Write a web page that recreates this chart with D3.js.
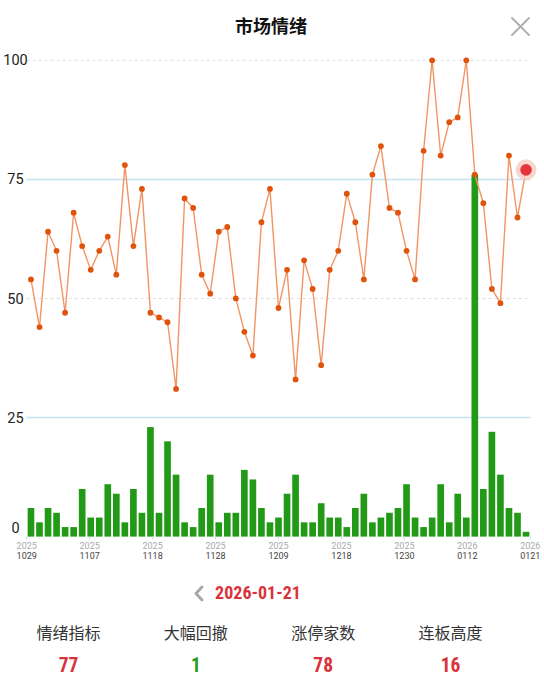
<!DOCTYPE html>
<html><head><meta charset="utf-8">
<script src="https://cdn.jsdelivr.net/npm/d3@7/dist/d3.min.js"></script>
<style>body{margin:0;background:#fff;} svg{display:block}</style>
</head><body>
<svg id="c" width="544" height="686"></svg>
<script>
const dates = [
 "20251029","20251030","20251031",
 "20251103","20251104","20251105","20251106","20251107",
 "20251110","20251111","20251112","20251113","20251114",
 "20251117","20251118","20251119","20251120","20251121",
 "20251124","20251125","20251126","20251127","20251128",
 "20251201","20251202","20251203","20251204","20251205",
 "20251208","20251209","20251210","20251211","20251212",
 "20251215","20251216","20251217","20251218","20251219",
 "20251222","20251223","20251224","20251225","20251226",
 "20251229","20251230","20251231",
 "20260105","20260106","20260107","20260108","20260109",
 "20260112","20260113","20260114","20260115","20260116",
 "20260119","20260120","20260121"
];
const sentiment = [54,44,64,60,47,68,61,56,60,63,55,78,61,73,47,46,45,31,71,69,55,51,64,65,50,43,38,66,73,48,56,33,58,52,36,56,60,72,66,54,76,82,69,68,60,54,81,100,80,87,88,100,76,70,52,49,80,67,77];
const drawdown = [6,3,6,5,2,2,10,4,4,11,9,3,10,5,23,5,20,13,3,2,6,13,3,5,5,14,12,6,3,4,9,13,3,3,7,4,4,2,6,9,3,4,5,6,11,4,2,4,11,3,9,4,76,10,22,13,6,5,1];
const yTicks = [0,25,50,75,100];
const solidTicks = [25,75];
const xTickYears = ["2025","2025","2025","2025","2025","2025","2025","2026","2026"];
const xTickDays = ["1029","1107","1118","1128","1209","1218","1230","0112","0121"];
const title = "市场情绪";
const selectedDate = "2026-01-21";
const statLabels = ["情绪指标","大幅回撤","涨停家数","连板高度"];
const statValues = ["77","1","78","16"];
const statUp = [true,false,true,true];

const svg = d3.select("#c");
const L = 26.7, R = 530.3, Y0 = 536.6, Y100 = 60.3;
const x = d3.scaleBand().domain(d3.range(dates.length)).range([L, R]).padding(0);
const cx = i => x(i) + x.bandwidth()/2;
const y = d3.scaleLinear().domain([0,100]).range([Y0, Y100]);
const xt = d3.scaleLinear().domain([0, xTickDays.length-1]).range([L, R]);

const numFont = "'Liberation Sans Narrow','Roboto Condensed','Liberation Sans',sans-serif";
const cjk = "'Noto Sans CJK SC','Noto Sans',sans-serif";

// title
svg.append("text").attr("x",271).attr("y",27).attr("dy","0.35em").attr("text-anchor","middle")
  .attr("font-family",cjk).attr("font-weight","bold").attr("font-size",18).attr("fill","#111").text(title);
// close icon
const cl = svg.append("g").attr("stroke","#b0b0b0").attr("stroke-width",2).attr("stroke-linecap","round");
cl.append("line").attr("x1",512).attr("y1",18).attr("x2",529).attr("y2",35);
cl.append("line").attr("x1",529).attr("y1",18).attr("x2",512).attr("y2",35);

// grid
svg.append("g").selectAll("line").data(yTicks.filter(d=>d>0)).join("line")
  .attr("x1",L).attr("x2",R).attr("y1",d=>y(d)).attr("y2",d=>y(d))
  .attr("stroke",d=>solidTicks.includes(d)?"#c2e4f4":"#dcdcdc")
  .attr("stroke-width",d=>solidTicks.includes(d)?1.5:1)
  .attr("stroke-dasharray",d=>solidTicks.includes(d)?null:"3,3");

// y labels
svg.append("g").selectAll("text").data(yTicks).join("text")
  .attr("x",15.5).attr("y",d=>Math.min(y(d), Y0-9)).attr("dy","0.35em").attr("text-anchor","middle")
  .attr("font-family","Roboto,sans-serif").attr("font-size",14.5).attr("fill","#222").text(d=>d);

// bars
const bw = x.bandwidth()*0.78;
svg.append("g").selectAll("rect").data(drawdown).join("rect")
  .attr("x",(d,i)=>cx(i)-bw/2).attr("width",bw)
  .attr("y",d=>y(d)).attr("height",d=>Y0-y(d))
  .attr("fill","#229a17");

// x ticks
svg.append("g").selectAll("line").data(xTickDays).join("line")
  .attr("x1",(d,i)=>xt(i)).attr("x2",(d,i)=>xt(i)).attr("y1",Y0).attr("y2",Y0+3)
  .attr("stroke","#bfe3f3").attr("stroke-width",1);
svg.append("g").selectAll("text").data(xTickYears).join("text")
  .attr("x",(d,i)=>xt(i)).attr("y",546).attr("dy","0.35em").attr("text-anchor","middle")
  .attr("font-family","Roboto,sans-serif").attr("font-size",9).attr("fill","#aaa").text(d=>d);
svg.append("g").selectAll("text").data(xTickDays).join("text")
  .attr("x",(d,i)=>xt(i)).attr("y",556).attr("dy","0.35em").attr("text-anchor","middle")
  .attr("font-family","Roboto,sans-serif").attr("font-size",9).attr("fill","#444").text(d=>d);

// line
svg.append("path").datum(sentiment)
  .attr("d",d3.line().x((d,i)=>cx(i)).y(d=>y(d)))
  .attr("fill","none").attr("stroke","#f29466").attr("stroke-width",1.4);
svg.append("g").selectAll("circle").data(sentiment.slice(0,-1)).join("circle")
  .attr("cx",(d,i)=>cx(i)).attr("cy",d=>y(d)).attr("r",2.9).attr("fill","#e0530c");
const li = sentiment.length-1;
svg.append("circle").attr("cx",cx(li)).attr("cy",y(sentiment[li])).attr("r",10.5).attr("fill","#f7d0c8").attr("opacity",0.85);
svg.append("circle").attr("cx",cx(li)).attr("cy",y(sentiment[li])).attr("r",5.8).attr("fill","#e5343a");

// date selector
svg.append("path").attr("d","M202,587 L196,593.5 L202,600").attr("fill","none")
  .attr("stroke","#a8a8a8").attr("stroke-width",3).attr("stroke-linecap","round").attr("stroke-linejoin","round");
svg.append("text").attr("x",258).attr("y",593).attr("dy","0.35em").attr("text-anchor","middle")
  .attr("font-family",numFont).attr("font-weight","bold").attr("font-size",18).attr("fill","#d9323a").text(selectedDate);

// stats
const sx = d3.scaleLinear().domain([0,3]).range([68.5,450.5]);
svg.append("g").selectAll("text").data(statLabels).join("text")
  .attr("x",(d,i)=>sx(i)).attr("y",633.5).attr("dy","0.35em").attr("text-anchor","middle")
  .attr("font-family",cjk).attr("font-size",16).attr("fill","#333").text(d=>d);
svg.append("g").selectAll("text").data(statValues).join("text")
  .attr("x",(d,i)=>sx(i)).attr("y",665.5).attr("dy","0.35em").attr("text-anchor","middle")
  .attr("font-family",numFont).attr("font-weight","bold").attr("font-size",19.5)
  .attr("fill",(d,i)=>statUp[i]?"#d9323a":"#2a9a1c").text(d=>d);
</script>
</body></html>
